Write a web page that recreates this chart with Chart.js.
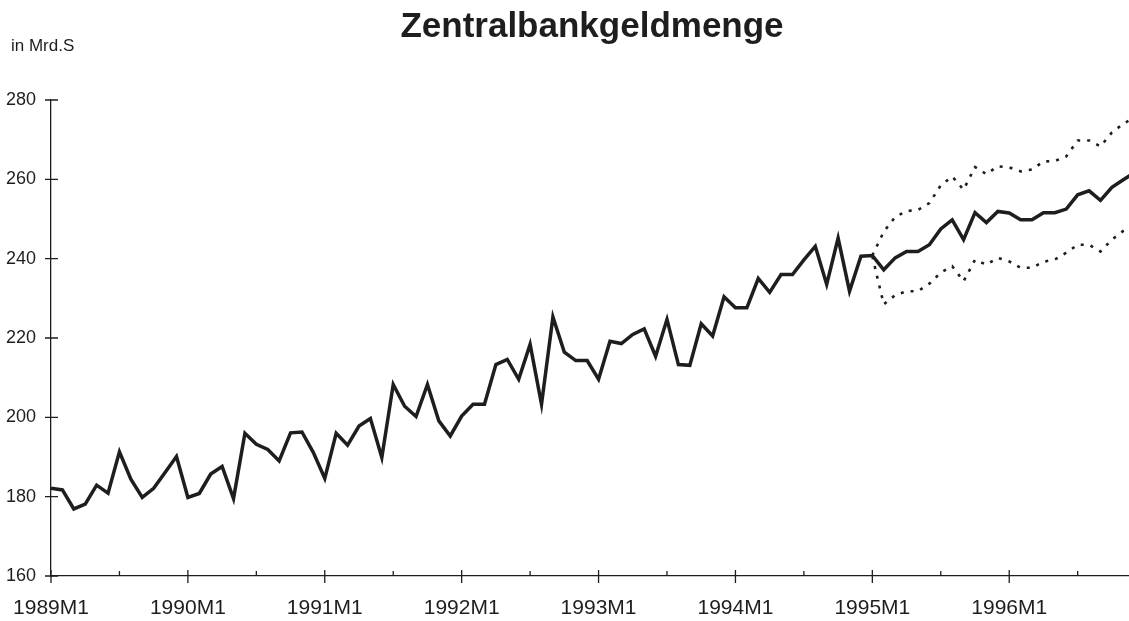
<!DOCTYPE html>
<html lang="de">
  <head>
    <meta charset="UTF-8" />
    <title>Zentralbankgeldmenge</title>
    <script src="https://cdn.jsdelivr.net/npm/chart.js"></script>
    <style>
      html, body { margin: 0; padding: 0; background: #fff; }
      #wrap { width: 1129px; height: 621px; position: relative; }
    </style>
  </head>
  <body>
    <div id="wrap"><canvas id="chart"></canvas></div>
    <script>
      // monthly values, index 0 = 1989M1
      const mainValues = [
        182.1, 181.7, 176.9, 178.1, 182.9, 180.9, 191.3, 184.4, 179.8, 182.1, 186.1, 190.1,
        179.8, 180.8, 185.7, 187.6, 179.5, 196.0, 193.2, 191.9, 189.0, 196.1, 196.3, 191.1,
        184.6, 196.0, 193.0, 197.8, 199.7, 189.9, 208.3, 202.8, 200.2, 208.3, 199.1, 195.3,
        200.3, 203.3, 203.3, 213.3, 214.6, 209.6, 218.4, 203.3, 225.3, 216.4, 214.3, 214.3,
        209.6, 219.2, 218.6, 220.9, 222.3, 215.4, 224.7, 213.3, 213.1, 223.6, 220.5, 230.4,
        227.6, 227.6, 235.0, 231.5, 236.0, 236.0, 239.7, 243.1, 233.5, 245.2, 231.8, 240.6,
        240.8, 237.2, 240.2, 241.8, 241.8, 243.5, 247.5, 249.8, 244.8, 251.6, 249.1, 251.9,
        251.5, 249.8, 249.8, 251.6, 251.6, 252.5, 256.1, 257.1, 254.7, 258.0, 259.9, 261.7
      ];
      // forecast band starts at 1995M1 (index 72)
      const bandStart = 72;
      const upperValues = [
        240.8, 246.8, 250.5, 252.0, 252.3, 254.0, 258.5, 260.7, 257.4, 263.1, 261.3, 263.3,
        263.0, 262.0, 262.5, 264.5, 264.6, 265.8, 269.8, 269.8, 268.3, 271.8, 274.0, 275.6
      ];
      const lowerValues = [
        240.6, 228.5, 230.8, 231.8, 231.8, 233.7, 236.5, 238.1, 234.3, 239.7, 238.5, 240.2,
        239.3, 237.7, 237.7, 239.2, 239.8, 241.5, 243.5, 243.5, 241.8, 244.8, 247.0, 248.6
      ];
      const yearLabels = ["1989M1", "1990M1", "1991M1", "1992M1", "1993M1", "1994M1", "1995M1", "1996M1"];
      const yTicks = [160, 180, 200, 220, 240, 260, 280];

      const toPoints = (arr, start) => arr.map((v, i) => ({ x: start + i, y: v }));

      const ink = "#1e1e1e";

      // title, unit and crossing tick marks
      const decor = {
        id: "decor",
        afterDraw(chart) {
          const ctx = chart.ctx;
          const xs = chart.scales.x;
          const ys = chart.scales.y;
          ctx.save();
          ctx.fillStyle = ink;
          ctx.textBaseline = "middle";
          ctx.textAlign = "center";
          ctx.font = "bold 35px 'Liberation Sans', Arial, sans-serif";
          ctx.fillText("Zentralbankgeldmenge", 592, 27);
          ctx.textAlign = "left";
          ctx.font = "17px 'Liberation Sans', Arial, sans-serif";
          ctx.fillText("in Mrd.S", 11, 46);

          ctx.strokeStyle = ink;
          ctx.lineWidth = 1.3;
          ctx.beginPath();
          yTicks.forEach((v) => {
            const y = ys.getPixelForValue(v);
            ctx.moveTo(xs.left - 6, y);
            ctx.lineTo(xs.left + 7, y);
          });
          for (let m = 0; m <= 90; m += 6) {
            const x = xs.getPixelForValue(m);
            if (m % 12 === 0) {
              ctx.moveTo(x, ys.bottom - 6);
              ctx.lineTo(x, ys.bottom + 7);
            } else {
              ctx.moveTo(x, ys.bottom - 5);
              ctx.lineTo(x, ys.bottom);
            }
          }
          ctx.stroke();
          ctx.restore();
        },
      };

      new Chart(document.getElementById("chart"), {
        type: "line",
        data: {
          datasets: [
            {
              data: toPoints(mainValues, 0),
              borderColor: ink,
              borderWidth: 3.5,
              pointRadius: 0,
              tension: 0,
            },
            {
              data: toPoints(upperValues, bandStart),
              borderColor: ink,
              borderWidth: 2.6,
              borderDash: [3, 7],
              pointRadius: 0,
              tension: 0,
            },
            {
              data: toPoints(lowerValues, bandStart),
              borderColor: ink,
              borderWidth: 2.6,
              borderDash: [3, 7],
              pointRadius: 0,
              tension: 0,
            },
          ],
        },
        options: {
          responsive: true,
          maintainAspectRatio: false,
          animation: false,
          layout: { padding: { top: 100, left: 0, right: 0, bottom: 0 } },
          plugins: {
            legend: { display: false },
            title: { display: false },
            tooltip: { enabled: false },
          },
          scales: {
            x: {
              type: "linear",
              min: 0,
              max: 94.5,
              afterFit: (scale) => {
                scale.height = 45;
                scale.paddingLeft = 0;
                scale.paddingRight = 0;
              },
              afterBuildTicks: (scale) => {
                const t = [];
                for (let m = 0; m <= 90; m += 6) t.push({ value: m });
                scale.ticks = t;
              },
              grid: { display: false, drawTicks: false },
              border: { display: true, color: ink, width: 1.3 },
              ticks: {
                autoSkip: false,
                maxRotation: 0,
                padding: 20,
                color: ink,
                font: { family: "'Liberation Sans', Arial, sans-serif", size: 21 },
                callback: (v) => (v % 12 === 0 ? yearLabels[v / 12] : ""),
              },
            },
            y: {
              min: 160,
              max: 280,
              afterFit: (scale) => {
                scale.width = 51;
                scale.paddingTop = 0;
                scale.paddingBottom = 0;
              },
              afterBuildTicks: (scale) => {
                scale.ticks = yTicks.map((v) => ({ value: v }));
              },
              grid: { display: false, drawTicks: false },
              border: { display: true, color: ink, width: 1.3 },
              ticks: {
                padding: 15,
                color: ink,
                font: { family: "'Liberation Sans', Arial, sans-serif", size: 18 },
              },
            },
          },
        },
        plugins: [decor],
      });
    </script>
  </body>
</html>
